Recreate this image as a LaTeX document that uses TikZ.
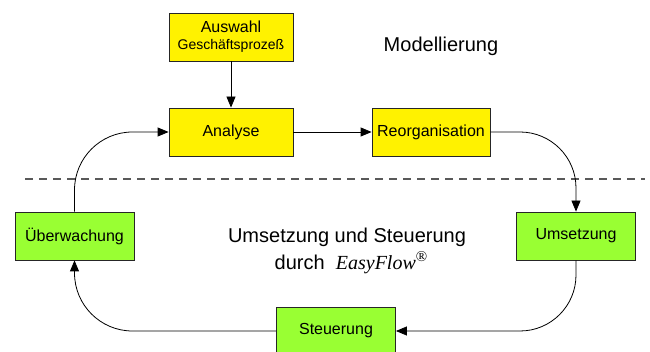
\documentclass[tikz,border=0pt]{standalone}
\usepackage{fontspec}
\setmainfont{Liberation Sans}
\newfontfamily\easyfont{Liberation Serif}
\usetikzlibrary{arrows.meta}

\definecolor{hellgruen}{HTML}{99FF33}

\begin{document}
\begin{tikzpicture}[x=1pt, y=-1pt, >={Triangle[length=11pt,width=9pt]}, line width=0.8pt]

\tikzset{
  gelb/.style={draw=black!85, fill=yellow, minimum width=124pt, minimum height=48pt, inner sep=0pt, font=\fontsize{16}{18}\selectfont},
  gruen/.style={draw=black!85, fill=hellgruen, minimum width=119pt, minimum height=48pt, inner sep=0pt, font=\fontsize{16}{18}\selectfont}
}

\useasboundingbox (0,0) rectangle (650,352);

% Kasten oben (Modellierung)
\node[gelb, align=center] (auswahl) at (231,37) {Auswahl\\[-1pt]{\fontsize{14}{16}\selectfont Geschäftsprozeß}};
\node[gelb] (analyse) at (231,132) {Analyse};
\node[gelb, minimum width=118pt] (reorg) at (431,132) {Reorganisation};

% Kasten unten (Umsetzung)
\node[gruen] (ueberw) at (74.5,236) {Überwachung};
\node[gruen] (umsetz) at (576,236) {Umsetzung};
\node[gruen] (steuer) at (336,331) {Steuerung};

% Trennlinie
\draw[dashed, dash pattern=on 8pt off 6pt, black!65, line width=1.1pt] (25,179) -- (645,179);

% Beschriftungen
\node[font=\fontsize{20}{22}\selectfont] (modell) at (441,46) {Modellierung};
\node[font=\fontsize{20}{22}\selectfont] (umsteu) at (347,237) {Umsetzung und Steuerung};
\node[font=\fontsize{20}{22}\selectfont, anchor=base] (durch) at (351,270) {durch\ \ {\easyfont\itshape EasyFlow}\raisebox{8pt}{\easyfont\fontsize{15}{15}\selectfont ®}};

% Kreislauf
\draw[->] (auswahl) -- (analyse);
\draw[->] (analyse) -- (reorg);
\draw[->, rounded corners=56pt] (reorg.east) -| (umsetz.north);
\draw[->, rounded corners=56pt] (umsetz.south) |- (steuer.east);
\draw[->, rounded corners=58pt] (steuer.west) -| (ueberw.south);
\draw[->, rounded corners=58pt] (ueberw.north) |- (analyse.west);

\end{tikzpicture}
\end{document}
